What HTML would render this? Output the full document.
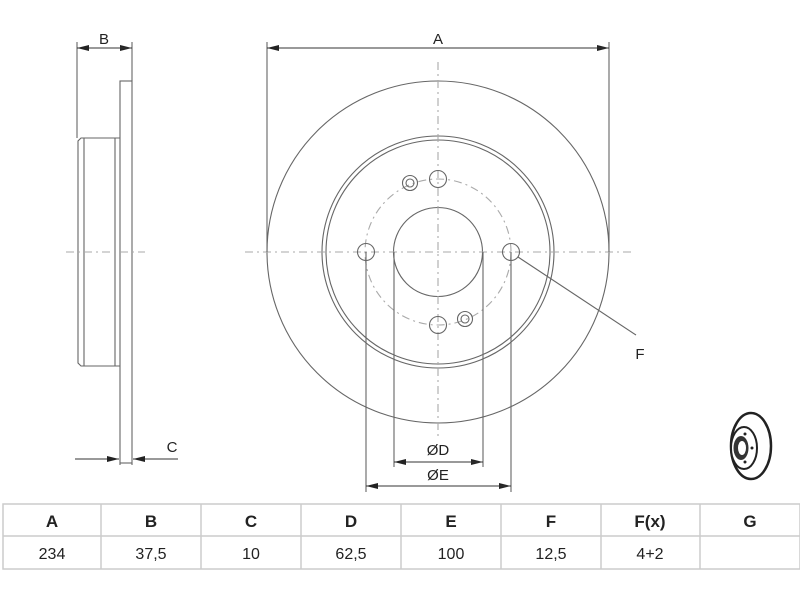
<!DOCTYPE html>
<html><head><style>
body{margin:0;background:#fff;}
svg{display:block;}
text{font-family:"Liberation Sans",sans-serif;fill:#222;}
</style></head><body>
<svg width="800" height="600" viewBox="0 0 800 600">
<defs>
<marker id="ar" markerWidth="12" markerHeight="8" refX="12" refY="4" orient="auto" markerUnits="userSpaceOnUse"><path d="M0,1 L12,4 L0,7 Z" fill="#222"/></marker>
</defs>
<g stroke="#666" fill="none" stroke-width="1.1">
<rect x="120" y="81" width="12" height="382"/>
<path d="M120,138 L81,138 L78,141 L78,363 L81,366 L120,366"/>
<line x1="84" y1="138" x2="84" y2="366"/>
<line x1="115" y1="138" x2="115" y2="366"/>
<line x1="77" y1="42" x2="77" y2="138"/>
<line x1="132" y1="42" x2="132" y2="81"/>
<line x1="120" y1="463" x2="120" y2="465"/>
<line x1="132" y1="463" x2="132" y2="465"/>
<line x1="66" y1="252" x2="145" y2="252" stroke="#aaa" stroke-dasharray="8,4,2,4"/>
<circle cx="438" cy="252" r="171"/>
<circle cx="438" cy="252" r="116"/>
<circle cx="438" cy="252" r="112"/>
<circle cx="438" cy="252" r="44.5"/>
<circle cx="438" cy="252" r="73" stroke="#aaa" stroke-dasharray="8,4,2,4"/>
<line x1="245" y1="252" x2="632" y2="252" stroke="#aaa" stroke-dasharray="8,4,2,4"/>
<line x1="438" y1="62" x2="438" y2="440" stroke="#aaa" stroke-dasharray="8,4,2,4"/>
<circle cx="366" cy="252" r="8.5"/>
<circle cx="511" cy="252" r="8.5"/>
<circle cx="438" cy="179" r="8.5"/>
<circle cx="438" cy="325" r="8.5"/>
<circle cx="410" cy="183" r="7.5"/><circle cx="410" cy="183" r="4"/>
<circle cx="465" cy="319" r="7.5"/><circle cx="465" cy="319" r="4"/>
<line x1="267" y1="42" x2="267" y2="252"/>
<line x1="609" y1="42" x2="609" y2="252"/>
<line x1="366" y1="252" x2="366" y2="492"/>
<line x1="511" y1="252" x2="511" y2="492"/>
<line x1="394" y1="252" x2="394" y2="467"/>
<line x1="483" y1="252" x2="483" y2="467"/>
<line x1="518" y1="257" x2="636" y2="335"/>
</g>
<g stroke="#333" stroke-width="1" fill="none">
<line x1="77" y1="48" x2="132" y2="48" marker-end="url(#ar)"/>
<line x1="132" y1="48" x2="77" y2="48" marker-end="url(#ar)"/>
<line x1="267" y1="48" x2="609" y2="48" marker-end="url(#ar)"/>
<line x1="609" y1="48" x2="267" y2="48" marker-end="url(#ar)"/>
<line x1="75" y1="459" x2="119" y2="459" marker-end="url(#ar)"/>
<line x1="178" y1="459" x2="133" y2="459" marker-end="url(#ar)"/>
<line x1="394" y1="462" x2="483" y2="462" marker-end="url(#ar)"/>
<line x1="483" y1="462" x2="394" y2="462" marker-end="url(#ar)"/>
<line x1="366" y1="486" x2="511" y2="486" marker-end="url(#ar)"/>
<line x1="511" y1="486" x2="366" y2="486" marker-end="url(#ar)"/>
</g>
<g font-size="15">
<text x="104" y="44" text-anchor="middle">B</text>
<text x="438" y="44" text-anchor="middle">A</text>
<text x="172" y="452" text-anchor="middle">C</text>
<text x="640" y="359" text-anchor="middle">F</text>
<text x="438" y="455" text-anchor="middle">ØD</text>
<text x="438" y="480" text-anchor="middle">ØE</text>
</g>
<g>
<ellipse cx="751" cy="446" rx="20" ry="33" fill="#fff" stroke="#222" stroke-width="2.5"/>
<ellipse cx="744" cy="448" rx="13" ry="21" fill="#fff" stroke="#222" stroke-width="2"/>
<ellipse cx="741" cy="448" rx="7.5" ry="12" fill="#333"/>
<ellipse cx="742" cy="448" rx="4" ry="7" fill="#fff"/>
<circle cx="745" cy="434" r="1.5" fill="#222"/>
<circle cx="745" cy="462" r="1.5" fill="#222"/>
<circle cx="752" cy="448" r="1.5" fill="#222"/>
</g>
<g stroke="#ccc" stroke-width="1.5" fill="none">
<rect x="3" y="504" width="797" height="65"/>
<line x1="3" y1="536" x2="800" y2="536"/>
<line x1="101" y1="504" x2="101" y2="569"/>
<line x1="201" y1="504" x2="201" y2="569"/>
<line x1="301" y1="504" x2="301" y2="569"/>
<line x1="401" y1="504" x2="401" y2="569"/>
<line x1="501" y1="504" x2="501" y2="569"/>
<line x1="601" y1="504" x2="601" y2="569"/>
<line x1="700" y1="504" x2="700" y2="569"/>
</g>
<g font-size="17" font-weight="bold" text-anchor="middle">
<text x="52" y="527">A</text><text x="151" y="527">B</text><text x="251" y="527">C</text><text x="351" y="527">D</text>
<text x="451" y="527">E</text><text x="551" y="527">F</text><text x="650" y="527">F(x)</text><text x="750" y="527">G</text>
</g>
<g font-size="16" text-anchor="middle">
<text x="52" y="559">234</text><text x="151" y="559">37,5</text><text x="251" y="559">10</text><text x="351" y="559">62,5</text>
<text x="451" y="559">100</text><text x="551" y="559">12,5</text><text x="650" y="559">4+2</text>
</g>
</svg>
</body></html>
